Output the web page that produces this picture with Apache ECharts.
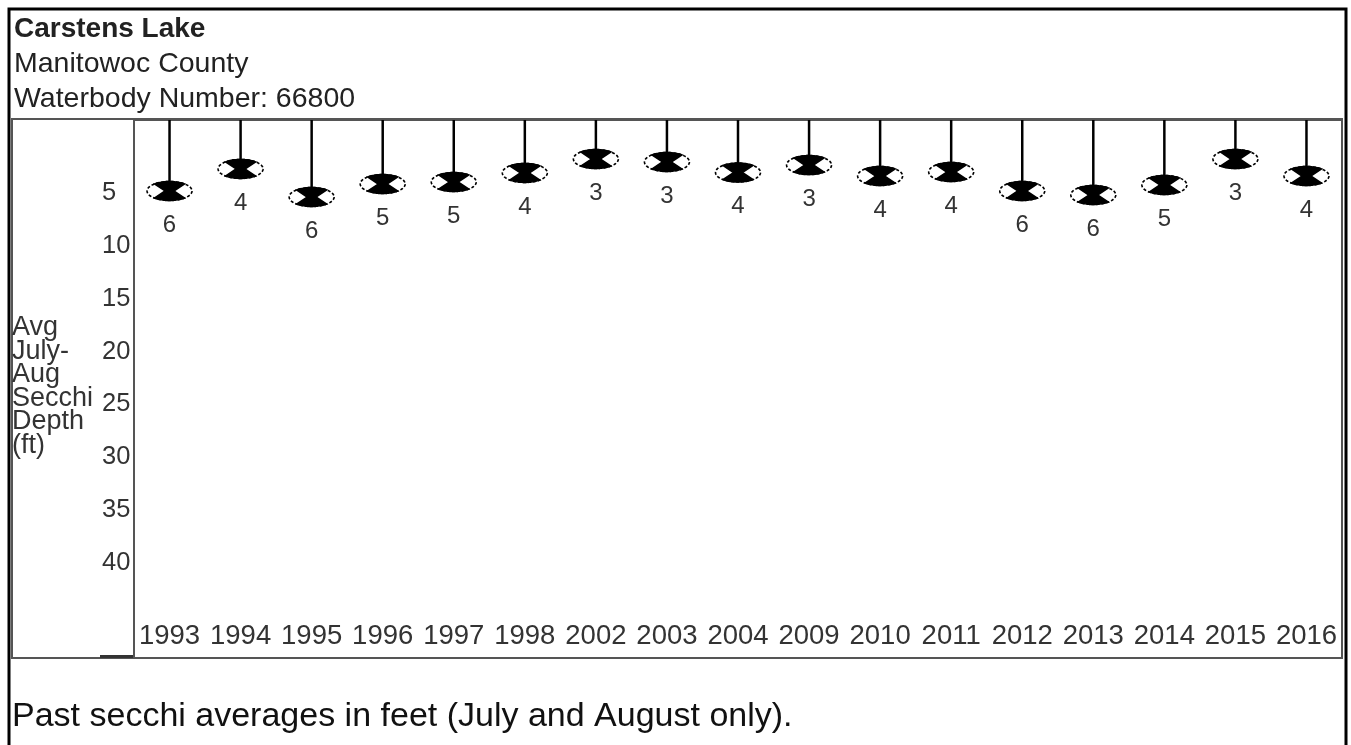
<!DOCTYPE html>
<html>
<head>
<meta charset="utf-8">
<script src="https://cdn.jsdelivr.net/npm/echarts@6/dist/echarts.min.js"></script>
<style>
html,body{margin:0;padding:0;background:#fff;}
#chart{width:1351px;height:745px;}
</style>
</head>
<body>
<div id="chart"></div>
<script>
const years = ['1993','1994','1995','1996','1997','1998','2002','2003','2004','2009','2010','2011','2012','2013','2014','2015','2016'];
// average July-August secchi depth (ft), estimated from disk positions
const secchiDepth = [5.73, 3.64, 6.30, 5.07, 4.88, 4.02, 2.70, 2.98, 3.98, 3.27, 4.31, 3.93, 5.73, 6.11, 5.16, 2.70, 4.31];
// printed (rounded) values under each disk
const secchiLabel = [6, 4, 6, 5, 5, 4, 3, 3, 4, 3, 4, 4, 6, 6, 5, 3, 4];
const yTickValues = [5, 10, 15, 20, 25, 30, 35, 40];

const FONT = '"Liberation Sans", Arial, sans-serif';
const chart = echarts.init(document.getElementById('chart'), null, {renderer: 'canvas'});

function renderItem(params, api) {
  const v = api.value(1);
  const pt = api.coord([api.value(0), v]);
  const cs = params.coordSys;
  const cx = pt[0], cy = pt[1];
  const a = 22.5, b = 9.5, w = 4.5;
  const ell = [];
  for (let k = 0; k < 60; k++) {
    const t = k / 60 * Math.PI * 2;
    ell.push([cx + a * Math.cos(t), cy + b * Math.sin(t)]);
  }
  const topPts = [[cx - w, cy]];
  const botPts = [[cx - w, cy]];
  for (let k = 0; k <= 20; k++) {
    const t = (132 - k * 84 / 20) * Math.PI / 180;
    topPts.push([cx + a * Math.cos(t), cy - b * Math.sin(t)]);
    botPts.push([cx + a * Math.cos(t), cy + b * Math.sin(t)]);
  }
  topPts.push([cx + w, cy]);
  botPts.push([cx + w, cy]);
  return {
    type: 'group',
    children: [
      {type: 'line', shape: {x1: cx, y1: cs.y, x2: cx, y2: cy - b}, style: {stroke: '#000', lineWidth: 2.5}},
      {type: 'polygon', shape: {points: ell}, style: {fill: '#fff', stroke: '#000', lineWidth: 1.6, lineDash: [3, 2]}},
      {type: 'polygon', shape: {points: topPts}, style: {fill: '#000', stroke: '#000', lineWidth: 1.5}},
      {type: 'polygon', shape: {points: botPts}, style: {fill: '#000', stroke: '#000', lineWidth: 1.5}},
      {type: 'text', style: {text: String(api.value(2)), x: cx, y: cy + 34, align: 'center', verticalAlign: 'middle', font: '24px ' + FONT, fill: '#333'}}
    ]
  };
}

const option = {
  backgroundColor: '#fff',
  animation: false,
  title: [
    {text: 'Carstens Lake', left: 14, top: 15, padding: 0, textStyle: {fontFamily: FONT, fontSize: 28, fontWeight: 'bold', color: '#222'}},
    {text: 'Manitowoc County', left: 14, top: 50, padding: 0, textStyle: {fontFamily: FONT, fontSize: 28.5, fontWeight: 'normal', color: '#222'}},
    {text: 'Waterbody Number: 66800', left: 14, top: 85, padding: 0, textStyle: {fontFamily: FONT, fontSize: 28.5, fontWeight: 'normal', color: '#222'}},
    {text: 'Past secchi averages in feet (July and August only).', left: 12, top: 700, padding: 0, textStyle: {fontFamily: FONT, fontSize: 34, fontWeight: 'normal', color: '#111'}}
  ],
  grid: {left: 134, top: 120, width: 1208, height: 538, show: true, borderColor: '#555', borderWidth: 2, backgroundColor: 'transparent'},
  xAxis: {
    type: 'category',
    data: years,
    boundaryGap: true,
    axisLine: {show: false},
    axisTick: {show: false},
    splitLine: {show: false},
    axisLabel: {inside: true, margin: 8, fontFamily: FONT, fontSize: 27.5, color: '#333', interval: 0}
  },
  yAxis: {
    type: 'value',
    inverse: true,
    min: -1,
    max: 50,
    axisLine: {show: false},
    axisTick: {show: false},
    splitLine: {show: false},
    axisLabel: {
      customValues: yTickValues,
      align: 'left',
      verticalAlign: 'top',
      lineHeight: 20,
      margin: 32,
      fontFamily: FONT,
      fontSize: 25.5,
      color: '#333'
    }
  },
  graphic: [
    {type: 'rect', shape: {x: 12, y: 119, width: 1330, height: 539}, style: {fill: 'none', stroke: '#555', lineWidth: 2}, z: 0},
    {type: 'line', shape: {x1: 100, y1: 656.5, x2: 133, y2: 656.5}, style: {stroke: '#333', lineWidth: 3}},
    {type: 'polyline', shape: {points: [[9, 760], [9, 9], [1346, 9], [1346, 760]]}, style: {fill: 'none', stroke: '#000', lineWidth: 3}},
    {type: 'text', left: 12, top: 314, style: {text: 'Avg\nJuly-\nAug\nSecchi\nDepth\n(ft)', font: '27px ' + FONT, lineHeight: 23.6, fill: '#333'}}
  ],
  series: [{
    type: 'custom',
    renderItem: renderItem,
    clip: false,
    data: years.map((y, i) => [i, secchiDepth[i], secchiLabel[i]])
  }]
};
chart.setOption(option);
</script>
</body>
</html>
